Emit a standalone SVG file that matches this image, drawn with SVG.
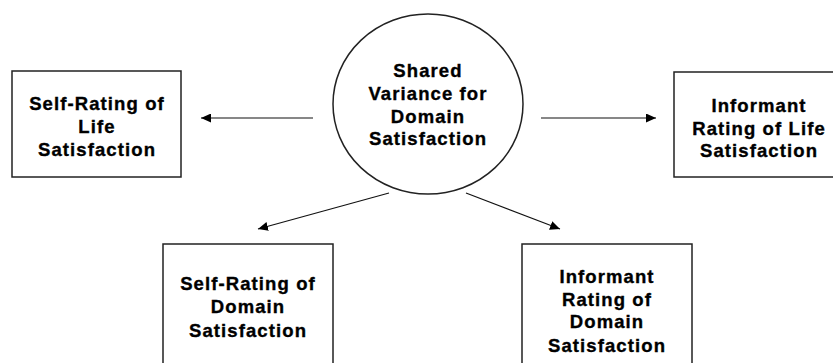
<svg xmlns="http://www.w3.org/2000/svg" width="833" height="363" viewBox="0 0 833 363">
<style>
.box{fill:#fff;stroke:#222;stroke-width:1.5}
.lbl{font-family:"Liberation Sans",Arial,sans-serif;font-weight:bold;font-size:18.5px;letter-spacing:1.1px;text-anchor:middle;fill:#000;stroke:#000;stroke-width:0.35}
.edge{stroke:#111;stroke-width:1.2;fill:none;marker-end:url(#ah)}
</style>
<defs>
<marker id="ah" markerUnits="userSpaceOnUse" markerWidth="11" markerHeight="9" refX="10" refY="4.5" orient="auto">
<path d="M0,0 L10,4.5 L0,9 z" fill="#000"/>
</marker>
</defs>
<rect width="833" height="363" fill="#fff"/>
<g id="connectors">
<line class="edge" x1="313" y1="118" x2="201" y2="118"/>
<line class="edge" x1="541" y1="118" x2="656" y2="118"/>
<line class="edge" x1="389" y1="193" x2="258" y2="229"/>
<line class="edge" x1="466" y1="193" x2="560" y2="229"/>
</g>
<g id="shared">
<ellipse class="box" cx="428" cy="104" rx="95" ry="90"/>
<text class="lbl" x="428" y="77">Shared</text>
<text class="lbl" x="428" y="100">Variance for</text>
<text class="lbl" x="428" y="122.5">Domain</text>
<text class="lbl" x="428" y="145">Satisfaction</text>
</g>
<g id="self-life">
<rect class="box" x="12" y="71" width="169" height="106"/>
<text class="lbl" x="97" y="110">Self-Rating of</text>
<text class="lbl" x="97" y="133">Life</text>
<text class="lbl" x="97" y="156">Satisfaction</text>
</g>
<g id="informant-life">
<rect class="box" x="674" y="72" width="170" height="105"/>
<text class="lbl" x="759" y="112">Informant</text>
<text class="lbl" x="759" y="135">Rating of Life</text>
<text class="lbl" x="759" y="157">Satisfaction</text>
</g>
<g id="self-domain">
<rect class="box" x="163" y="244" width="170" height="130"/>
<text class="lbl" x="248" y="290">Self-Rating of</text>
<text class="lbl" x="248" y="313">Domain</text>
<text class="lbl" x="248" y="337">Satisfaction</text>
</g>
<g id="informant-domain">
<rect class="box" x="522" y="244" width="170" height="130"/>
<text class="lbl" x="607" y="283">Informant</text>
<text class="lbl" x="607" y="306">Rating of</text>
<text class="lbl" x="607" y="328">Domain</text>
<text class="lbl" x="607" y="352">Satisfaction</text>
</g>
</svg>
